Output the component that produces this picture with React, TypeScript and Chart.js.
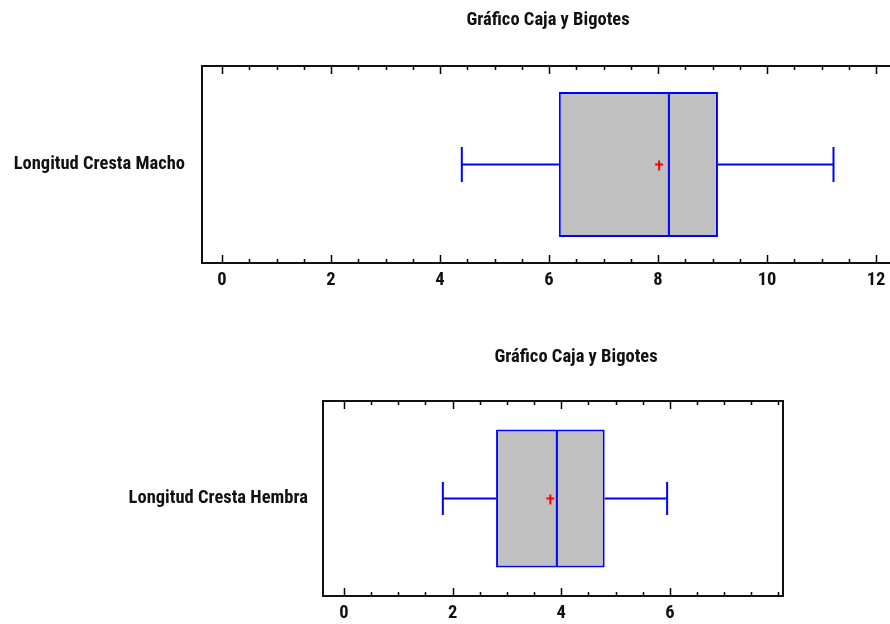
import React, { useEffect, useRef } from 'react';
import { Chart, registerables } from 'chart.js';

Chart.register(...registerables);

const TITLE = 'Gráfico Caja y Bigotes';

// Upper chart (Macho)
const categoriesMacho = ['Longitud Cresta Macho'];
const whiskerLowMacho = [4.4];
const q1Macho = [6.18];
const medianMacho = [8.2];
const q3Macho = [9.1];
const whiskerHighMacho = [11.22];
const meanMacho = [8.02];
const xTicksMacho = [0, 2, 4, 6, 8, 10, 12];

// Lower chart (Hembra)
const categoriesHembra = ['Longitud Cresta Hembra'];
const whiskerLowHembra = [1.82];
const q1Hembra = [2.8];
const medianHembra = [3.92];
const q3Hembra = [4.8];
const whiskerHighHembra = [5.95];
const meanHembra = [3.8];
const xTicksHembra = [0, 2, 4, 6];

const FONT_FAMILY = "'Roboto Condensed', 'Open Sans Condensed', 'Liberation Sans', Arial, sans-serif";
const FONT_SIZE = 18.5;
const TEXT_COLOR = '#111111';
const BOX_BLUE = '#0000ff';
const BOX_FILL = '#c0c0c0';

const boxPlotPlugin = {
  id: 'boxPlotExtras',
  afterDatasetsDraw(chart: any, _args: any, opts: any) {
    const { ctx } = chart;
    const xs = chart.scales.x;
    const meta = chart.getDatasetMeta(0);
    const px = (v: number) => xs.getPixelForValue(v);
    ctx.save();
    meta.data.forEach((bar: any, i: number) => {
      const { y, height } = bar.getProps(['y', 'height'], true);
      const top = y - height / 2;
      const bottom = y + height / 2;
      const cap = height * opts.capRatio;
      ctx.strokeStyle = BOX_BLUE;
      ctx.lineWidth = 2;
      ctx.lineCap = 'butt';
      ctx.beginPath();
      ctx.moveTo(px(opts.low[i]), y);
      ctx.lineTo(px(opts.q1[i]), y);
      ctx.moveTo(px(opts.q3[i]), y);
      ctx.lineTo(px(opts.high[i]), y);
      ctx.moveTo(px(opts.low[i]), y - cap);
      ctx.lineTo(px(opts.low[i]), y + cap);
      ctx.moveTo(px(opts.high[i]), y - cap);
      ctx.lineTo(px(opts.high[i]), y + cap);
      ctx.moveTo(px(opts.median[i]), top + 1);
      ctx.lineTo(px(opts.median[i]), bottom - 1);
      ctx.stroke();
      // mean marker
      const mx = px(opts.mean[i]);
      ctx.strokeStyle = '#ff0000';
      ctx.lineWidth = 2;
      ctx.beginPath();
      ctx.moveTo(mx, y - 4);
      ctx.lineTo(mx, y + 6);
      ctx.moveTo(mx - 4, y);
      ctx.lineTo(mx + 4, y);
      ctx.stroke();
    });
    ctx.restore();
  },
  afterDraw(chart: any, _args: any, opts: any) {
    const { ctx, chartArea } = chart;
    const xs = chart.scales.x;
    ctx.save();
    // inner ticks
    ctx.strokeStyle = '#000000';
    ctx.lineWidth = 1.5;
    const majors: number[] = opts.majorTicks;
    const start = Math.ceil(xs.min * 2) / 2;
    ctx.beginPath();
    for (let v = start; v <= xs.max + 1e-9; v += 0.5) {
      const x = Math.round(xs.getPixelForValue(v)) + 0.5;
      const len = majors.includes(v) ? 8 : 4;
      ctx.moveTo(x, chartArea.top);
      ctx.lineTo(x, chartArea.top + len);
      ctx.moveTo(x, chartArea.bottom);
      ctx.lineTo(x, chartArea.bottom - len);
    }
    ctx.stroke();
    // frame
    ctx.strokeStyle = '#111111';
    ctx.lineWidth = 2;
    ctx.strokeRect(
      chartArea.left,
      chartArea.top,
      chartArea.right - chartArea.left,
      chartArea.bottom - chartArea.top
    );
    // title
    ctx.fillStyle = TEXT_COLOR;
    ctx.font = `bold ${FONT_SIZE}px ${FONT_FAMILY}`;
    ctx.textAlign = 'center';
    ctx.textBaseline = 'alphabetic';
    ctx.fillText(opts.title, opts.titleX, opts.titleBaseline);
    ctx.restore();
  },
};

type BoxChartProps = {
  categories: string[];
  low: number[];
  q1: number[];
  median: number[];
  q3: number[];
  high: number[];
  mean: number[];
  xTicks: number[];
  xMin: number;
  xMax: number;
  left: number;
  top: number;
  width: number;
  height: number;
  area: { left: number; top: number; right: number; bottom: number };
  barPct: number;
  labelPad: number;
  titleX: number;
  titleBaseline: number;
};

function BoxChart(p: BoxChartProps) {
  const ref = useRef<HTMLCanvasElement | null>(null);
  useEffect(() => {
    if (!ref.current) return;
    const chart = new Chart(ref.current, {
      type: 'bar',
      data: {
        labels: p.categories,
        datasets: [
          {
            data: p.q1.map((v, i) => [v, p.q3[i]]) as any,
            backgroundColor: BOX_FILL,
            borderColor: BOX_BLUE,
            borderWidth: 2,
            borderSkipped: false,
            categoryPercentage: 1,
            barPercentage: p.barPct,
          },
        ],
      },
      options: {
        indexAxis: 'y',
        responsive: false,
        animation: false,
        devicePixelRatio: 1,
        layout: {
          padding: {
            left: 0,
            top: p.area.top,
            right: p.width - p.area.right,
            bottom: 0,
          },
        },
        plugins: {
          legend: { display: false },
          tooltip: { enabled: false },
          title: { display: false },
          boxPlotExtras: {
            low: p.low,
            q1: p.q1,
            median: p.median,
            q3: p.q3,
            high: p.high,
            mean: p.mean,
            capRatio: 0.12,
            majorTicks: p.xTicks,
            title: TITLE,
            titleX: p.titleX,
            titleBaseline: p.titleBaseline,
          },
        } as any,
        scales: {
          x: {
            type: 'linear',
            min: p.xMin,
            max: p.xMax,
            grid: { display: false, drawTicks: false },
            border: { display: false },
            afterBuildTicks: (scale: any) => {
              scale.ticks = p.xTicks.map((v) => ({ value: v }));
            },
            afterFit: (scale: any) => {
              scale.height = p.height - p.area.bottom;
            },
            ticks: {
              padding: 6,
              color: TEXT_COLOR,
              font: { family: FONT_FAMILY, size: FONT_SIZE, weight: 'bold' },
              maxRotation: 0,
              autoSkip: false,
            },
          },
          y: {
            type: 'category',
            grid: { display: false, drawTicks: false },
            border: { display: false },
            afterFit: (scale: any) => {
              scale.width = p.area.left;
            },
            ticks: {
              padding: p.labelPad,
              color: TEXT_COLOR,
              font: { family: FONT_FAMILY, size: FONT_SIZE, weight: 'bold' },
            },
          },
        },
      } as any,
      plugins: [boxPlotPlugin],
    });
    return () => chart.destroy();
  }, []);
  return (
    <canvas
      ref={ref}
      width={p.width}
      height={p.height}
      style={{
        position: 'absolute',
        left: p.left,
        top: p.top,
        width: p.width,
        height: p.height,
      }}
    />
  );
}

export default function App() {
  return (
    <div
      style={{
        position: 'absolute',
        left: 0,
        top: 0,
        width: 890,
        height: 624,
        overflow: 'hidden',
        background: '#ffffff',
      }}
    >
      <BoxChart
        categories={categoriesMacho}
        low={whiskerLowMacho}
        q1={q1Macho}
        median={medianMacho}
        q3={q3Macho}
        high={whiskerHighMacho}
        mean={meanMacho}
        xTicks={xTicksMacho}
        xMin={-0.367}
        xMax={12.532}
        left={0}
        top={0}
        width={910}
        height={300}
        area={{ left: 202, top: 66, right: 905, bottom: 263 }}
        barPct={0.736}
        labelPad={17}
        titleX={548}
        titleBaseline={25}
      />
      <BoxChart
        categories={categoriesHembra}
        low={whiskerLowHembra}
        q1={q1Hembra}
        median={medianHembra}
        q3={q3Hembra}
        high={whiskerHighHembra}
        mean={meanHembra}
        xTicks={xTicksHembra}
        xMin={-0.387}
        xMax={8.084}
        left={0}
        top={300}
        width={890}
        height={324}
        area={{ left: 323, top: 101, right: 783, bottom: 296 }}
        barPct={0.708}
        labelPad={15}
        titleX={576}
        titleBaseline={62}
      />
    </div>
  );
}
